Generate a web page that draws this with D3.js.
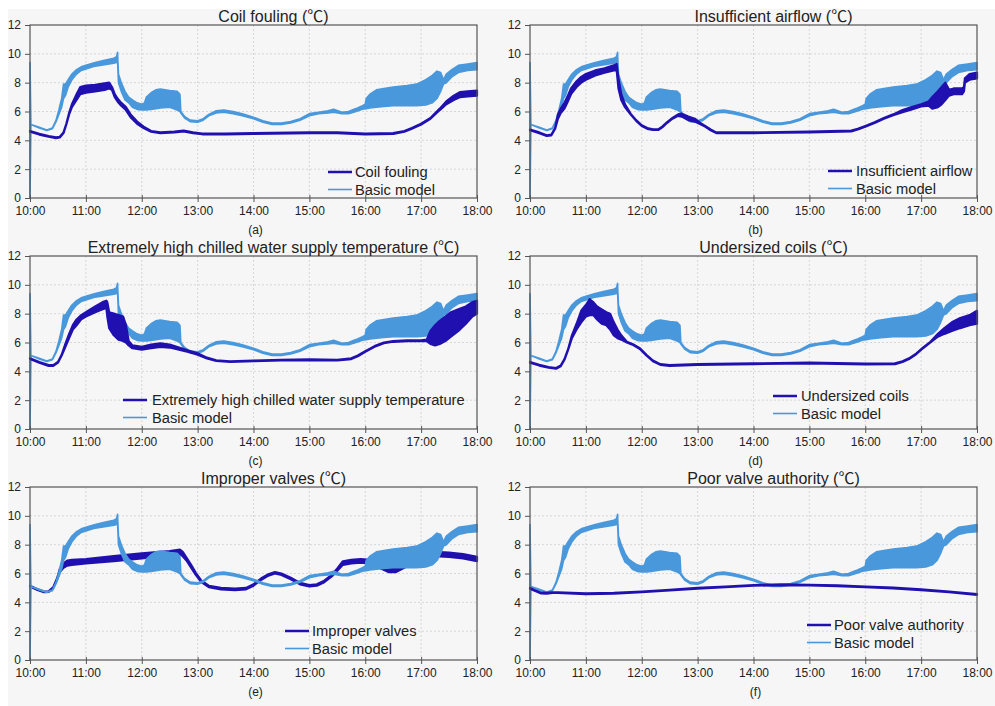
<!DOCTYPE html>
<html>
<head>
<meta charset="utf-8">
<script src="https://cdn.jsdelivr.net/npm/d3@7"></script>
<style>
  body { margin: 0; background: #ffffff; }
  svg { display: block; font-family: "Liberation Sans", Arial, "Noto Sans CJK SC", sans-serif; }
</style>
</head>
<body>
<svg id="chart" width="995" height="706"></svg>
<script>
// Supply air temperature (℃), 10:00–18:00. Each row: [time, lower envelope, upper envelope]
// (the envelope spans the oscillation band where the signal hunts).

const xTickLabels = ["10:00","11:00","12:00","13:00","14:00","15:00","16:00","17:00","18:00"];
const yTickValues = [0, 2, 4, 6, 8, 10, 12];

const basicModel = [
  ["10:00",0,9.4],["10:01",5.1,5.1],["10:10",4.85,4.9],["10:18",4.68,4.72],["10:24",4.8,4.85],
  ["10:28",5.3,5.4],["10:31",5.8,6.1],["10:34",6.3,6.9],["10:36",6.9,7.9],["10:38",7.1,7.9],
  ["10:41",7.7,8.2],["10:45",8.2,8.6],["10:50",8.6,8.9],["10:55",8.85,9.1],["11:00",8.95,9.2],
  ["11:10",9.15,9.4],["11:20",9.25,9.55],["11:30",9.35,9.7],["11:33",9.4,9.8],["11:34",9.5,10.1],
  ["11:35",8.0,8.6],["11:38",7.4,8.0],["11:42",6.8,7.4],["11:46",6.6,7.0],["11:50",6.3,6.8],
  ["11:55",6.15,6.6],["12:00",6.1,6.5],["12:03",6.1,6.6],["12:05",6.1,7.0],["12:10",6.15,7.3],
  ["12:15",6.2,7.5],["12:20",6.25,7.55],["12:30",6.3,7.45],["12:38",6.1,7.4],["12:41",6.0,7.2],
  ["12:42",5.9,6.0],["12:46",5.55,5.65],["12:52",5.3,5.4],["13:00",5.25,5.35],["13:06",5.4,5.5],
  ["13:12",5.7,5.8],["13:20",5.9,6.05],["13:28",5.95,6.1],["13:38",5.85,6.0],["13:48",5.7,5.85],
  ["14:00",5.5,5.6],["14:10",5.25,5.35],["14:20",5.1,5.2],["14:30",5.1,5.2],["14:40",5.2,5.3],
  ["14:50",5.4,5.5],["15:00",5.7,5.85],["15:10",5.85,5.95],["15:20",5.9,6.05],["15:26",5.95,6.15],
  ["15:35",5.85,5.95],["15:42",5.85,6.0],["15:50",6.0,6.2],["15:57",6.15,6.4],["16:00",6.2,6.5],
  ["16:01",6.2,6.9],["16:05",6.25,7.2],["16:12",6.3,7.5],["16:20",6.35,7.6],["16:30",6.4,7.7],
  ["16:45",6.4,7.8],["16:55",6.4,7.9],["17:05",6.45,8.2],["17:12",6.6,8.5],["17:17",6.9,8.8],
  ["17:21",7.4,8.7],["17:24",7.9,8.2],["17:27",8.0,8.6],["17:33",8.4,8.9],["17:40",8.7,9.2],
  ["17:50",8.85,9.3],["18:00",8.9,9.4]
];

const coilFouling = [
  ["10:00",4.6,4.65],["10:10",4.4,4.45],["10:20",4.25,4.3],["10:28",4.15,4.2],["10:32",4.2,4.25],
  ["10:36",4.5,4.55],["10:39",5.1,5.15],["10:42",5.8,5.9],["10:45",6.3,6.5],["10:50",6.8,7.2],
  ["10:54",7.2,7.7],["11:00",7.3,7.8],["11:10",7.4,7.85],["11:20",7.5,7.95],["11:25",7.6,8.0],
  ["11:28",7.5,7.7],["11:31",7.0,7.2],["11:34",6.7,6.9],["11:38",6.4,6.6],["11:43",6.1,6.3],
  ["11:48",5.6,5.8],["11:55",5.15,5.3],["12:02",4.85,4.95],["12:10",4.6,4.65],["12:20",4.5,4.55],
  ["12:35",4.55,4.6],["12:45",4.62,4.67],["12:55",4.5,4.55],["13:05",4.42,4.47],["13:30",4.42,4.47],
  ["14:00",4.45,4.5],["15:00",4.5,4.55],["15:30",4.5,4.55],["16:00",4.42,4.47],["16:30",4.45,4.5],
  ["16:42",4.6,4.65],["16:50",4.8,4.85],["17:00",5.1,5.15],["17:10",5.5,5.55],["17:20",6.1,6.2],
  ["17:27",6.5,6.7],["17:35",6.8,7.1],["17:42",7.0,7.35],["17:50",7.05,7.4],["18:00",7.1,7.45]
];

const insufficientAirflow = [
  ["10:00",4.7,4.75],["10:10",4.5,4.55],["10:18",4.3,4.35],["10:23",4.35,4.4],["10:27",4.8,4.85],
  ["10:30",5.5,5.8],["10:33",5.9,6.2],["10:37",6.2,6.6],["10:40",6.6,7.0],["10:44",7.2,7.6],
  ["10:50",7.7,8.1],["10:55",8.0,8.4],["11:00",8.2,8.6],["11:10",8.5,8.85],["11:20",8.7,9.0],
  ["11:30",8.85,9.2],["11:33",8.9,9.3],["11:35",7.6,8.3],["11:38",6.8,7.2],["11:42",6.3,6.5],
  ["11:48",5.8,5.85],["11:54",5.35,5.4],["12:00",5.0,5.05],["12:06",4.8,4.85],["12:12",4.72,4.77],
  ["12:18",4.72,4.77],["12:22",4.9,4.95],["12:27",5.2,5.25],["12:33",5.5,5.55],["12:39",5.7,5.8],
  ["12:43",5.65,5.85],["12:50",5.4,5.65],["12:57",5.3,5.5],["13:02",5.15,5.25],["13:08",4.95,5.0],
  ["13:14",4.7,4.75],["13:20",4.5,4.55],["14:00",4.5,4.55],["15:00",4.55,4.6],["15:45",4.62,4.67],
  ["15:52",4.75,4.8],["16:00",4.95,5.0],["16:10",5.2,5.25],["16:20",5.5,5.55],["16:30",5.75,5.8],
  ["16:40",5.95,6.1],["16:50",6.15,6.3],["17:00",6.35,6.5],["17:08",6.4,6.7],["17:12",6.2,7.0],
  ["17:18",6.3,7.4],["17:22",6.5,7.7],["17:26",6.8,8.0],["17:30",7.1,7.5],["17:35",7.2,7.6],
  ["17:44",7.2,7.6],["17:46",7.4,7.7],["17:47",8.0,8.3],["17:52",8.2,8.6],["18:00",8.3,8.7]
];

const highChilledWater = [
  ["10:00",4.85,4.9],["10:10",4.6,4.65],["10:20",4.38,4.43],["10:25",4.38,4.43],["10:30",4.6,4.65],
  ["10:34",5.1,5.15],["10:38",5.7,5.9],["10:42",6.3,6.6],["10:46",6.9,7.2],["10:50",7.2,7.6],
  ["10:55",7.6,7.9],["11:00",7.8,8.1],["11:10",8.1,8.5],["11:18",8.3,8.8],["11:22",8.4,8.9],
  ["11:23",7.8,8.8],["11:25",7.0,8.1],["11:30",6.5,8.0],["11:35",6.2,7.9],["11:40",6.1,7.8],
  ["11:43",6.0,7.2],["11:46",5.8,6.1],["11:50",5.6,5.8],["12:00",5.5,5.7],["12:10",5.6,5.85],
  ["12:20",5.7,5.95],["12:30",5.65,5.85],["12:40",5.5,5.65],["12:50",5.35,5.45],["13:00",5.15,5.25],
  ["13:10",4.9,4.95],["13:20",4.72,4.77],["13:35",4.65,4.7],["14:00",4.7,4.75],["14:30",4.75,4.8],
  ["15:00",4.78,4.83],["15:30",4.75,4.8],["15:45",4.85,4.9],["15:52",5.05,5.1],["16:00",5.35,5.4],
  ["16:10",5.7,5.75],["16:20",5.95,6.0],["16:30",6.05,6.1],["16:45",6.1,6.15],["17:00",6.1,6.15],
  ["17:06",6.1,6.2],["17:10",5.9,6.8],["17:15",5.8,7.2],["17:20",5.9,7.5],["17:26",6.1,7.8],
  ["17:32",6.4,8.1],["17:40",6.8,8.3],["17:48",7.3,8.5],["17:55",7.8,8.8],["18:00",8.0,8.9]
];

const undersizedCoils = [
  ["10:00",4.6,4.65],["10:10",4.4,4.45],["10:20",4.25,4.3],["10:28",4.18,4.23],["10:33",4.35,4.4],
  ["10:37",4.8,4.85],["10:41",5.5,5.55],["10:45",6.3,6.5],["10:50",6.9,7.3],["10:55",7.4,8.2],
  ["11:00",7.8,8.6],["11:04",7.9,9.0],["11:08",7.9,8.8],["11:12",7.6,8.5],["11:17",7.3,8.3],
  ["11:22",7.2,8.1],["11:26",6.9,8.0],["11:30",6.5,7.4],["11:34",6.3,6.9],["11:38",6.2,6.5],
  ["11:44",6.0,6.05],["11:50",5.85,5.9],["11:58",5.55,5.6],["12:05",5.1,5.15],["12:12",4.7,4.75],
  ["12:20",4.45,4.5],["12:30",4.38,4.43],["13:00",4.45,4.5],["14:00",4.5,4.55],["15:00",4.55,4.6],
  ["15:30",4.52,4.57],["16:00",4.48,4.53],["16:32",4.5,4.55],["16:40",4.65,4.7],["16:47",4.85,4.9],
  ["16:55",5.2,5.25],["17:02",5.6,5.65],["17:10",6.0,6.05],["17:18",6.4,6.6],["17:25",6.6,7.0],
  ["17:33",6.8,7.4],["17:42",7.0,7.7],["17:52",7.2,7.9],["18:00",7.3,8.2]
];

const improperValves = [
  ["10:00",5.1,5.15],["10:08",4.85,4.9],["10:15",4.7,4.75],["10:20",4.72,4.77],["10:25",5.0,5.05],
  ["10:29",5.6,5.65],["10:32",6.1,6.3],["10:36",6.4,6.7],["10:40",6.55,6.9],["10:45",6.6,6.95],
  ["11:00",6.7,7.0],["11:30",6.85,7.2],["12:00",7.05,7.4],["12:30",7.25,7.55],["12:41",7.35,7.65],
  ["12:44",7.2,7.5],["12:48",6.9,7.1],["12:53",6.4,6.6],["12:58",5.9,6.05],["13:04",5.4,5.5],
  ["13:12",5.05,5.15],["13:25",4.9,5.0],["13:40",4.85,4.95],["13:52",4.9,5.0],["14:00",5.15,5.25],
  ["14:08",5.55,5.65],["14:16",5.85,5.95],["14:23",6.0,6.1],["14:30",5.9,6.0],["14:40",5.6,5.7],
  ["14:50",5.25,5.35],["15:00",5.1,5.2],["15:08",5.15,5.25],["15:16",5.4,5.5],["15:24",5.8,5.9],
  ["15:30",6.2,6.35],["15:36",6.6,6.85],["15:45",6.7,6.95],["15:55",6.75,7.0],["16:05",6.7,6.95],
  ["16:15",6.4,6.7],["16:25",6.1,6.4],["16:33",6.1,6.4],["16:45",6.5,6.8],["17:00",6.9,7.2],
  ["17:15",7.2,7.5],["17:30",7.15,7.45],["17:45",7.05,7.35],["18:00",6.85,7.15]
];

const poorValveAuthority = [
  ["10:00",4.95,5.0],["10:05",4.8,4.85],["10:12",4.62,4.67],["10:18",4.6,4.65],["10:24",4.65,4.7],
  ["10:30",4.65,4.7],["11:00",4.57,4.62],["11:30",4.6,4.65],["12:00",4.7,4.75],["12:30",4.82,4.87],
  ["13:00",4.95,5.0],["13:30",5.05,5.1],["14:00",5.15,5.2],["14:30",5.2,5.25],["15:00",5.17,5.22],
  ["15:30",5.12,5.17],["16:00",5.05,5.1],["16:30",4.97,5.02],["17:00",4.85,4.9],["17:30",4.7,4.75],
  ["18:00",4.52,4.57]
];

const faultNames = ["Coil fouling", "Insufficient airflow", "Extremely high chilled water supply temperature",
                    "Undersized coils", "Improper valves", "Poor valve authority"];
const faultSeries = [coilFouling, insufficientAirflow, highChilledWater, undersizedCoils, improperValves, poorValveAuthority];
const panelLetters = ["(a)", "(b)", "(c)", "(d)", "(e)", "(f)"];
const basicName = "Basic model";

// ---- layout & style ----
const FAULT_COLOR = "#2010b0";
const BASIC_COLOR = "#4a98dc";
const plotW = 447, plotH = 173;
const colX = [30, 530];
const rowY = [25, 256, 487];
// legend placement inside each plot: [line start x, text x, first row y offset from bottom]
const legendPos = [[298, 325, -26], [298, 326, -27], [93, 122, -29], [243, 271, -33], [255, 282, -29], [277, 304, -35]];
const basicOnTop = [false, false, false, false, true, false];

const parse = d3.timeParse("%H:%M");
const svg = d3.select("#chart");

svg.append("rect").attr("x", 8).attr("y", 9).attr("width", 987).attr("height", 697).attr("fill", "#f6f6f6");

faultSeries.forEach((series, i) => {
  const x0 = colX[i % 2], y0 = rowY[Math.floor(i / 2)];
  const g = svg.append("g").attr("transform", `translate(${x0},${y0})`);

  const x = d3.scaleTime().domain([parse(xTickLabels[0]), parse(xTickLabels[xTickLabels.length - 1])]).range([0, plotW]);
  const y = d3.scaleLinear().domain([0, 12]).range([plotH, 0]);

  // grid
  g.append("g").selectAll("line.h").data(yTickValues.slice(1, -1)).join("line")
    .attr("x1", 0).attr("x2", plotW).attr("y1", d => y(d)).attr("y2", d => y(d))
    .attr("stroke", "#cfcfcf").attr("stroke-width", 0.8).attr("stroke-dasharray", "2,2");
  g.append("g").selectAll("line.v").data(xTickLabels.slice(1, -1)).join("line")
    .attr("x1", d => x(parse(d))).attr("x2", d => x(parse(d))).attr("y1", 0).attr("y2", plotH)
    .attr("stroke", "#cfcfcf").attr("stroke-width", 0.8).attr("stroke-dasharray", "2,2");

  const band = d3.area()
    .x(d => x(parse(d[0])))
    .y0(d => y(d[1]))
    .y1(d => y(d[2]));

  const drawBasic = () => g.append("path").datum(basicModel).attr("d", band)
    .attr("fill", BASIC_COLOR).attr("stroke", BASIC_COLOR).attr("stroke-width", 1.6).attr("stroke-linejoin", "round");
  const drawFault = () => g.append("path").datum(series).attr("d", band)
    .attr("fill", FAULT_COLOR).attr("stroke", FAULT_COLOR).attr("stroke-width", 2.2).attr("stroke-linejoin", "round");

  if (basicOnTop[i]) { drawFault(); drawBasic(); } else { drawBasic(); drawFault(); }

  // frame
  g.append("rect").attr("width", plotW).attr("height", plotH)
    .attr("fill", "none").attr("stroke", "#555").attr("stroke-width", 1.2);

  // axes
  const yAxis = g.append("g").call(d3.axisLeft(y).tickValues(yTickValues).tickSize(5).tickPadding(4));
  const xAxis = g.append("g").attr("transform", `translate(0,${plotH})`)
    .call(d3.axisBottom(x).tickValues(xTickLabels.map(parse)).tickFormat(d3.timeFormat("%H:%M")).tickSize(4).tickPadding(4));
  xAxis.selectAll(".tick line").attr("y1", -3);
  [yAxis, xAxis].forEach(a => {
    a.select(".domain").remove();
    a.selectAll(".tick line").attr("stroke", "#555");
    a.selectAll("text").attr("font-size", 12).attr("fill", "#222").attr("font-family", "Liberation Sans, Arial, sans-serif");
  });

  // title
  g.append("text").attr("x", plotW / 2 + 20).attr("y", -3).attr("text-anchor", "middle")
    .attr("font-size", 16).attr("fill", "#222").text(`${faultNames[i]} (℃)`);

  // panel letter
  g.append("text").attr("x", plotW / 2 + 2).attr("y", plotH + 36).attr("text-anchor", "middle")
    .attr("font-size", 12).attr("fill", "#222").text(panelLetters[i]);

  // legend
  const [lx, tx, ly] = legendPos[i];
  const legend = [[faultNames[i], FAULT_COLOR, 2.5], [basicName, BASIC_COLOR, 1.6]];
  legend.forEach(([name, color, w], k) => {
    const yy = plotH + ly + k * 17.5;
    g.append("line").attr("x1", lx).attr("x2", lx + 24).attr("y1", yy).attr("y2", yy)
      .attr("stroke", color).attr("stroke-width", w);
    g.append("text").attr("x", tx).attr("y", yy).attr("dy", "0.35em")
      .attr("font-size", 14.7).attr("fill", "#222").text(name);
  });
});
</script>
</body>
</html>
